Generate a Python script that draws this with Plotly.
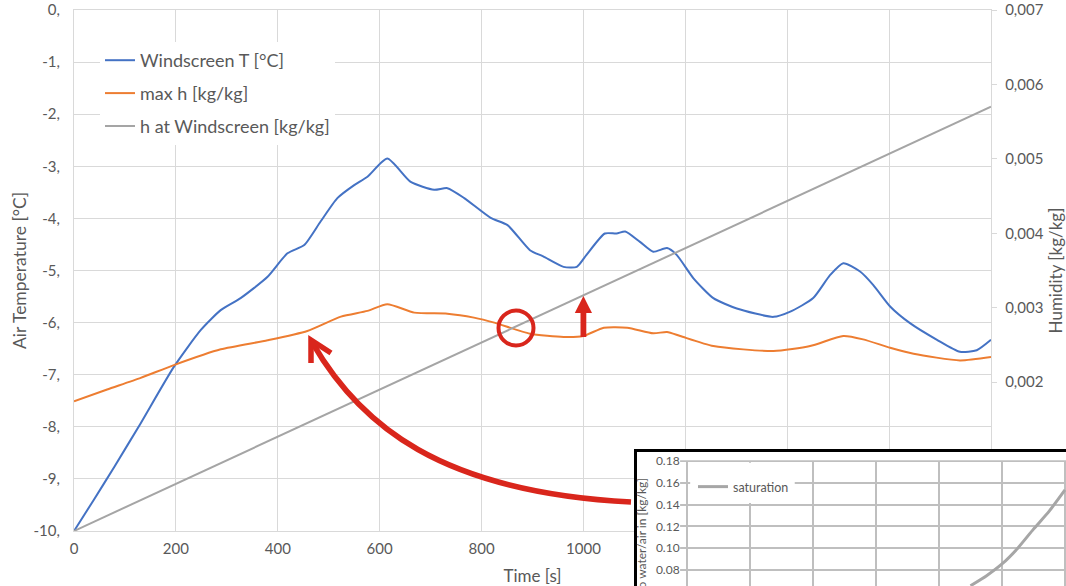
import plotly.graph_objects as go

W, H = 1066, 586

# ---------------- data ----------------
time_T = [0, 39, 79, 131, 196, 249, 288, 327, 380, 419, 452, 484, 517, 550, 576,
          615, 661, 707, 733, 766, 818, 851, 895, 921, 961, 987, 1006, 1042, 1065,
          1082, 1111, 1137, 1164, 1183, 1216, 1255, 1301, 1373, 1406, 1451, 1484,
          1510, 1543, 1569, 1602, 1641, 1694, 1739, 1772, 1800]
windscreen_T = [-10, -9.4, -8.77, -7.93, -6.85, -6.14, -5.76, -5.53, -5.12, -4.67,
                -4.51, -4.06, -3.61, -3.36, -3.2, -2.85, -3.3, -3.45, -3.42, -3.61,
                -3.99, -4.13, -4.61, -4.73, -4.93, -4.93, -4.70, -4.29, -4.29, -4.25,
                -4.45, -4.64, -4.57, -4.70, -5.15, -5.53, -5.73, -5.89, -5.79, -5.53,
                -5.09, -4.86, -5.02, -5.28, -5.69, -6.01, -6.33, -6.56, -6.53, -6.33]

time_h = [0, 65, 131, 196, 288, 380, 458, 524, 576, 615, 668, 733, 785, 825, 895,
          961, 1000, 1040, 1086, 1137, 1164, 1190, 1255, 1373, 1445, 1510, 1549,
          1602, 1648, 1739, 1800]
max_h = [0.001744, 0.001902, 0.002058, 0.002229, 0.002441, 0.002562, 0.002687,
         0.00288, 0.002957, 0.003047, 0.002934, 0.00292, 0.002867, 0.0028, 0.002651,
         0.002606, 0.00262, 0.002732, 0.002732, 0.002656, 0.002674, 0.00262,
         0.002485, 0.002418, 0.002485, 0.00262, 0.002575, 0.002462, 0.002381,
         0.002292, 0.002337]

time_hw = [0, 1800]
h_windscreen = [0.0, 0.0057]

# inset: saturation curve
sat_temp = [45, 47.5, 50, 52.5, 55, 57.5, 60]
sat_ratio = [0.0655, 0.0745, 0.0855, 0.100, 0.1175, 0.134, 0.1535]

temp_ticks = list(range(-10, 1))
temp_ticktext = [f"{v}," for v in temp_ticks]
hum_ticks = [0.000, 0.001, 0.002, 0.003, 0.004, 0.005, 0.006, 0.007]
# lowest two labels are hidden behind the inset in the reference
hum_ticktext = ["", "", "0,002", "0,003", "0,004", "0,005", "0,006", "0,007"]
time_ticks = list(range(0, 2000, 200))
# labels from 1200 on are hidden behind the inset in the reference
time_ticktext = ["0", "200", "400", "600", "800", "1000", "", "", "", ""]

# ---------------- helpers (window pixel -> paper) ----------------
def px(x):
    return x / W

def py(y):
    return 1 - y / H

FONT = "Lato, 'Open Sans', sans-serif"
TXT = "#595959"
GRID = "#d9d9d9"
RED = "#D9261C"

fig = go.Figure()

fig.add_trace(go.Scatter(x=time_T, y=windscreen_T, name="Windscreen T [°C]",
                         mode="lines", line=dict(color="#4472C4", width=2, shape="spline", smoothing=0.6),
                         legendgroup="a", xaxis="x", yaxis="y"))
fig.add_trace(go.Scatter(x=time_h, y=max_h, name="max h [kg/kg]",
                         mode="lines", line=dict(color="#ED7D31", width=2, shape="spline", smoothing=0.6),
                         legendgroup="b", xaxis="x", yaxis="y2"))
fig.add_trace(go.Scatter(x=time_hw, y=h_windscreen, name="h at Windscreen [kg/kg]",
                         mode="lines", line=dict(color="#A5A5A5", width=2),
                         legendgroup="c", xaxis="x", yaxis="y2"))
fig.add_trace(go.Scatter(x=sat_temp, y=sat_ratio, name="saturation",
                         mode="lines", line=dict(color="#a6a6a6", width=3, shape="spline", smoothing=0.5),
                         xaxis="x2", yaxis="y3", legend="legend2"))

shapes = []
# inset white background (inside inset subplot, below its grid)
shapes.append(dict(type="rect", xref="x2", yref="y3", x0=-20, x1=80, y0=0, y1=0.4,
                   fillcolor="white", line=dict(width=0), layer="below"))
# hide inset grid left of its axis and above 0.18
shapes.append(dict(type="rect", xref="x2", yref="y3", x0=-20, x1=-1.1, y0=0, y1=0.4,
                   fillcolor="white", line=dict(width=0), layer="between"))
shapes.append(dict(type="rect", xref="x2", yref="y3", x0=-20, x1=80, y0=0.1806, y1=0.4,
                   fillcolor="white", line=dict(width=0), layer="between"))
# inset legend background
shapes.append(dict(type="rect", xref="x2", yref="y3", x0=0.5, x1=17.1, y0=0.1415, y1=0.1785,
                   fillcolor="white", line=dict(width=0), layer="between"))
# inset border
shapes.append(dict(type="line", xref="paper", yref="paper", x0=px(635.5), x1=px(635.5),
                   y0=py(449), y1=py(590), line=dict(color="black", width=3), layer="above"))
shapes.append(dict(type="line", xref="paper", yref="paper", x0=px(634), x1=px(1070),
                   y0=py(450.5), y1=py(450.5), line=dict(color="black", width=3), layer="above"))
# red circle
shapes.append(dict(type="circle", xref="paper", yref="paper",
                   x0=px(516 - 17.5), x1=px(516 + 17.5), y0=py(328 + 17.5), y1=py(328 - 17.5),
                   line=dict(color=RED, width=4), layer="above"))
# red vertical arrow
shapes.append(dict(type="rect", xref="paper", yref="paper", x0=px(580.5), x1=px(586.3),
                   y0=py(337), y1=py(311), fillcolor=RED, line=dict(width=0), layer="above"))
shapes.append(dict(type="path", xref="paper", yref="paper",
                   path=f"M {px(574.8)},{py(313)} L {px(583.4)},{py(296)} L {px(592)},{py(313)} Z",
                   fillcolor=RED, line=dict(width=0), layer="above"))
# red curved arrow
shapes.append(dict(type="path", xref="paper", yref="paper",
                   path=(f"M {px(631)},{py(502)} C {px(440)},{py(492)} {px(360)},{py(425)} "
                         f"{px(312.5)},{py(343)}"),
                   fillcolor="rgba(0,0,0,0)", line=dict(color=RED, width=5.5), layer="above"))
shapes.append(dict(type="path", xref="paper", yref="paper",
                   path=f"M {px(311)},{py(363)} L {px(311)},{py(340)} L {px(331)},{py(353)}",
                   fillcolor="rgba(0,0,0,0)", line=dict(color=RED, width=5.5), layer="above"))

fig.update_layout(
    width=W, height=H,
    margin=dict(l=0, r=0, t=0, b=0, autoexpand=False),
    paper_bgcolor="white", plot_bgcolor="white",
    font=dict(family=FONT, color=TXT, size=15),
    showlegend=True,
    legend=dict(x=px(100), y=py(42), xanchor="left", yanchor="top",
                bgcolor="white", font=dict(size=18, color=TXT, family=FONT),
                tracegroupgap=6.5, itemwidth=30),
    legend2=dict(x=px(693), y=py(472), xanchor="left", yanchor="top",
                 bgcolor="rgba(0,0,0,0)", font=dict(size=12.5, color=TXT, family=FONT),
                 itemwidth=30),
    xaxis=dict(domain=[px(74), px(991)], range=[0, 1800], tickvals=time_ticks,
               ticktext=time_ticktext,
               showgrid=True, gridcolor=GRID, gridwidth=1.3, zeroline=False,
               showline=True, linecolor=GRID, linewidth=1.3, mirror=True, automargin=False,
               ticks="", ticklabelstandoff=4, tickfont=dict(size=15, color=TXT),
               title=dict(text="Time [s]", font=dict(size=17, color=TXT), standoff=13),
               anchor="y"),
    yaxis=dict(domain=[py(531), py(10)], range=[-10, 0], tickvals=temp_ticks,
               ticktext=temp_ticktext, showgrid=True, gridcolor=GRID, gridwidth=1.3,
               zeroline=False, showline=True, linecolor=GRID, linewidth=1.3, mirror=True,
               automargin=False, ticks="", ticklabelstandoff=10, tickfont=dict(size=15, color=TXT),
               title=dict(text="Air Temperature [°C]", font=dict(size=17.5, color=TXT), standoff=2),
               anchor="x"),
    yaxis2=dict(overlaying="y", side="right", anchor="x", range=[0, 0.007],
                tickvals=hum_ticks, ticktext=hum_ticktext, showgrid=False, zeroline=False,
                showline=True, linecolor=GRID, linewidth=1.3, automargin=False,
                ticks="outside", ticklen=5, tickcolor=GRID, ticklabelstandoff=5,
                tickfont=dict(size=15, color=TXT),
                title=dict(text="Humidity [kg/kg]", font=dict(size=17, color=TXT), standoff=7)),
    xaxis2=dict(domain=[px(637), 1.0], range=[-7.94, 60.16], anchor="y3", automargin=False,
                tick0=0, dtick=10, showticklabels=False, ticks="",
                showgrid=True, gridcolor="#bfbfbf", gridwidth=1.6, zeroline=False, showline=False),
    yaxis3=dict(domain=[0, py(451)], range=[0.0653, 0.1892], anchor="free", automargin=False,
                position=px(687), tick0=0, dtick=0.02, tickformat=".2f",
                ticks="outside", ticklen=5, tickcolor="#bfbfbf",
                tickfont=dict(size=12, color=TXT), showgrid=True, gridcolor="#bfbfbf",
                gridwidth=1.6, zeroline=False, showline=False),
    shapes=shapes,
    annotations=[dict(text="ratio water/air in [kg/kg]", textangle=-90, xref="paper",
                      yref="paper", x=px(641), y=py(476), xanchor="center", yanchor="top",
                      showarrow=False, font=dict(size=12, color=TXT, family=FONT))],
)

# remove the browser's default 8px page margin so the figure fills the window
fig.write_html("out.html", config={"displayModeBar": False},
               post_script="document.body.style.margin='0';")
